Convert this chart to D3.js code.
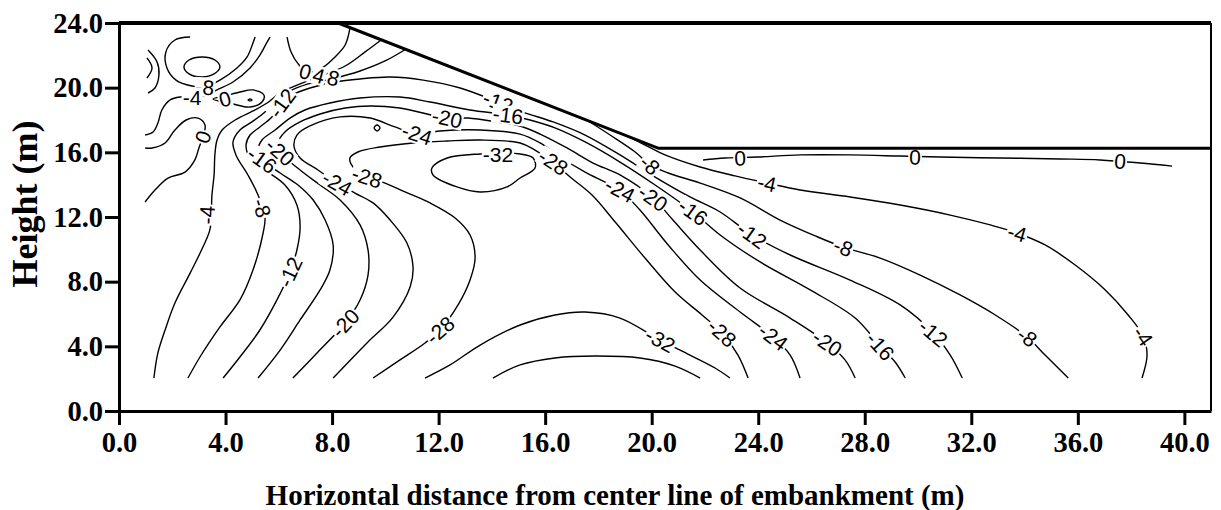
<!DOCTYPE html>
<html>
<head>
<meta charset="utf-8">
<script src="https://cdn.jsdelivr.net/npm/d3@7"></script>
<style>
  body { margin: 0; background: #fff; }
  svg { display: block; }
  .axis .tick text { font-family: "Liberation Serif", "Times New Roman", serif; font-weight: bold; font-size: 28.5px; fill: #000; }
  .axis path, .axis line { stroke: #000; stroke-width: 3; }
  .contour { fill: none; stroke: #000; stroke-width: 1.4; }
  .clabel { font-family: "Liberation Sans", Arial, sans-serif; font-size: 21px; fill: #000; }
  .axis-title { font-family: "Liberation Serif", "Times New Roman", serif; font-weight: bold; fill: #000; }
</style>
</head>
<body>
<div class="chart"></div>
<script>
// tick values
var xTicks = [0, 4, 8, 12, 16, 20, 24, 28, 32, 36, 40];
var yTicks = [0, 4, 8, 12, 16, 20, 24];

// embankment outline (x, y in m)
var embankment = [[8.23, 24], [20.26, 16.25], [41, 16.25]];

// contour lines, [x, y] in m
var level0Right = [[21.93,15.53],[22.76,15.65],[23.96,15.71],[25.57,15.84],[27.45,15.84],[29.33,15.77],[30.83,15.71],[33.08,15.65],[35.34,15.59],[36.84,15.53],[38.34,15.34],[39.54,15.15]];
var level4Right = [[19.0,17.07],[19.75,16.45],[20.5,15.84],[21.82,15.09],[23.13,14.54],[24.33,14.1],[25.57,13.67],[27.45,13.24],[29.33,12.74],[31.21,12.12],[32.71,11.51],[33.72,11.01],[34.77,10.27],[35.9,9.03],[37.03,7.49],[37.89,5.94],[38.45,4.64],[38.6,3.46],[38.41,2.04]];
var level8Right = [[17.5,18.06],[18.44,17.07],[19.38,16.02],[19.94,15.22],[20.62,14.72],[21.82,14.1],[23.32,13.18],[24.82,11.81],[26.14,10.83],[27.19,10.14],[28.58,9.46],[30.08,8.41],[31.58,7.18],[32.9,5.94],[34.1,4.58],[34.77,3.46],[35.64,2.04]];
var level4Left = [[1.31,2.04],[1.46,3.59],[1.73,5.01],[2.1,6.68],[2.67,8.53],[3.15,10.14],[3.42,11.26],[3.49,13.36],[3.57,14.6],[3.6,15.84],[3.68,16.76],[3.87,17.38],[4.36,18.0],[5.11,18.62],[5.56,19.05],[6.05,19.67],[6.8,20.23],[7.47,20.66],[8.49,21.34],[9.24,22.21],[9.84,22.95]];
var level8Left = [[2.59,2.04],[3.04,3.34],[3.79,5.2],[4.54,6.87],[5.03,8.72],[5.41,11.01],[5.48,12.0],[5.22,13.36],[4.84,14.6],[4.39,15.84],[4.28,16.64],[4.54,17.38],[4.99,17.88],[5.48,18.49],[5.78,19.05],[6.35,19.73],[7.1,20.23],[8.0,20.54],[9.05,21.03],[9.99,21.65],[10.78,22.39]];
var level0Top = [[6.31,23.13],[6.46,22.21],[6.76,21.4],[7.06,20.97],[7.62,21.22],[8.11,21.9],[8.49,22.64],[8.67,23.69]];
var level12 = [[3.91,2.04],[4.54,3.34],[5.29,5.01],[5.93,6.87],[6.42,8.6],[6.68,9.96],[6.8,11.38],[6.68,12.74],[6.23,13.98],[5.48,14.91],[4.92,15.65],[4.77,16.45],[4.92,17.07],[5.29,17.57],[5.74,18.19],[6.12,19.05],[6.5,19.55],[7.17,19.98],[8.11,20.35],[9.05,20.54],[10.18,20.66],[11.42,20.47],[12.81,19.98],[14.23,19.11],[15.17,18.49],[16.3,17.88],[17.5,17.07],[18.81,15.84],[20.13,14.47],[21.44,13.24],[22.57,12.31],[23.77,10.89],[25.2,9.65],[27.45,8.1],[29.33,6.56],[30.57,4.83],[31.21,3.46],[31.66,2.04]];
var level16 = [[5.22,2.04],[6.05,3.77],[6.8,5.63],[7.55,7.49],[7.92,8.72],[8.04,10.27],[7.74,11.81],[7.29,13.05],[6.72,13.98],[6.05,14.72],[5.37,15.53],[5.22,16.14],[5.37,16.76],[5.86,17.38],[6.42,18.12],[6.98,18.62],[7.92,19.05],[9.05,19.36],[10.55,19.42],[11.68,19.11],[13.18,18.62],[14.61,18.31],[15.43,18.0],[16.37,17.51],[17.5,16.64],[18.81,15.4],[20.13,13.98],[21.55,12.31],[22.57,10.89],[24.07,9.22],[25.95,7.49],[27.64,5.75],[28.58,4.02],[29.14,3.03],[29.52,2.04]];
var level20 = [[6.53,2.04],[7.47,3.65],[8.49,5.44],[9.05,6.87],[9.35,8.41],[9.35,9.96],[9.05,11.51],[8.3,13.05],[7.55,13.98],[6.8,14.91],[6.05,16.02],[5.98,16.64],[6.23,17.26],[6.8,17.88],[7.55,18.37],[8.49,18.74],[9.43,18.87],[10.55,18.74],[12.32,18.12],[13.11,18.12],[14.19,17.88],[15.06,17.63],[15.81,17.13],[16.82,16.27],[17.8,15.34],[18.81,14.6],[20.05,13.18],[20.8,11.81],[21.82,9.96],[23.32,7.61],[25.2,5.75],[26.59,4.21],[27.26,3.16],[27.64,2.04]];
var level24 = [[8.04,2.04],[9.31,4.21],[10.29,5.81],[10.93,7.67],[11.04,8.91],[10.81,10.39],[10.18,11.81],[9.54,12.87],[8.86,13.48],[8.19,14.1],[7.47,14.91],[6.8,15.65],[6.57,16.39],[6.68,17.07],[7.17,17.63],[8.3,18.19],[9.43,18.12],[10.36,17.57],[11.19,17.13],[12.05,17.32],[13.56,17.38],[15.06,17.13],[15.81,16.58],[16.56,15.71],[17.5,14.78],[18.25,14.16],[18.81,13.67],[19.56,12.43],[20.62,10.27],[21.82,8.1],[23.32,6.12],[24.56,4.58],[25.2,3.46],[25.57,2.04]];
var level28 = [[9.54,2.04],[10.55,3.16],[11.49,4.21],[12.05,5.01],[12.73,6.56],[13.18,8.1],[13.37,9.46],[13.18,10.89],[12.62,11.94],[11.68,12.87],[10.74,13.55],[9.99,14.1],[9.31,14.47],[8.79,15.09],[8.67,15.65],[8.97,16.02],[9.8,16.33],[11.04,16.58],[12.32,16.7],[13.56,16.76],[15.06,16.58],[15.62,16.14],[16.3,15.4],[16.94,14.47],[17.76,13.36],[18.63,11.69],[19.75,9.46],[20.88,7.36],[21.89,5.94],[22.64,4.83],[23.24,3.46],[23.62,2.04]];
var level32Bottom = [[11.49,2.04],[12.43,2.85],[13.56,4.08],[15.06,5.32],[16.37,5.94],[17.5,6.12],[18.81,5.75],[20.32,4.39],[21.44,3.46],[22.38,2.66],[22.94,2.04]];
var level36Bottom = [[14.04,2.04],[15.06,2.85],[16.37,3.28],[17.87,3.4],[19.56,3.28],[20.88,2.78],[21.82,2.04]];
var level8Ring = [[2.67,23.13],[2.1,22.95],[1.76,22.21],[1.8,21.22],[2.14,20.47],[2.74,20.1],[3.23,20.04],[3.79,20.47],[4.43,21.22],[4.81,21.9],[5.03,22.76],[5.11,23.13]];
var level4Upper = [[0.98,17.07],[1.28,17.26],[1.46,17.81],[1.61,18.62],[1.92,19.24],[2.29,19.42],[2.74,19.42],[3.3,19.55],[3.68,19.86],[4.28,20.35],[4.92,21.22],[5.29,22.02],[5.56,22.82],[5.67,23.13]];
var level0Left = [[0.98,12.93],[1.35,13.67],[1.84,14.41],[2.48,14.78],[2.85,15.53],[3.0,16.27],[3.15,16.95],[3.23,17.69],[2.97,18.12],[2.52,18.0],[2.1,17.38],[1.73,16.58],[1.24,16.27],[0.98,16.27]];
var arcInner = [[1.05,21.84],[1.24,21.22],[1.05,20.6]];
var arcOuter = [[1.09,22.33],[1.43,21.59],[1.5,20.78],[1.35,19.98],[1.09,19.67]];

// closed contours
var loop32 = [[11.75,15.03],[12.32,15.65],[13.56,15.9],[15.06,15.9],[15.55,15.65],[15.62,15.03],[15.06,14.41],[14.57,13.86],[13.56,13.55],[12.69,13.86],[11.79,14.6]];
var loopUpperLeft = [[2.44,21.28],[2.63,21.71],[3.12,21.9],[3.6,21.71],[3.79,21.28],[3.57,20.85],[3.12,20.66],[2.63,20.85]];
var loop0 = [[3.53,19.3],[4.28,18.99],[4.92,18.8],[5.37,19.11],[5.44,19.55],[5.03,19.86],[4.54,19.73],[3.98,19.48]];
var loopDot = [[4.85,19.24],[4.92,19.3],[4.99,19.24],[4.92,19.18]];
var loopSmall = [[9.58,17.51],[9.69,17.69],[9.8,17.51],[9.69,17.32]];

var openLines = [level0Right, level4Right, level8Right, level4Left, level8Left, level0Top,
  level12, level16, level20, level24, level28, level32Bottom, level36Bottom,
  level8Ring, level4Upper, level0Left, arcInner, arcOuter];
var closedLines = [loop32, loopUpperLeft, loop0, loopDot, loopSmall];

// contour labels: text, x, y (m), optional fixed angle
var contourLabels = [
  ["-8", 3.23, 20.04], ["-4", 2.74, 19.42], ["0", 3.98, 19.3], ["0", 3.15, 16.95],
  ["-12", 6.12, 19.05], ["0", 7.0, 21.0, 15], ["4", 7.5, 20.75, 15], ["8", 8.05, 20.6, 15],
  ["-16", 5.37, 15.53], ["-20", 6.05, 16.02], ["-24", 8.19, 14.1], ["-28", 9.31, 14.47],
  ["-4", 3.3, 12.12], ["-8", 5.37, 12.56], ["-12", 6.42, 8.6], ["-20", 8.49, 5.44], ["-28", 12.05, 5.01],
  ["-12", 14.23, 19.11], ["-16", 14.61, 18.31], ["-20", 12.32, 18.12], ["-24", 11.19, 17.13],
  ["-32", 14.23, 15.9], ["-28", 16.3, 15.4], ["-24", 18.81, 13.67], ["-20", 20.05, 13.18],
  ["-16", 21.55, 12.31], ["-8", 19.94, 15.22], ["-12", 23.77, 10.89], ["-4", 24.33, 14.1],
  ["0", 23.32, 15.65], ["-8", 27.19, 10.14], ["-4", 33.72, 11.01], ["0", 29.89, 15.71], ["0", 37.59, 15.46],
  ["-32", 20.32, 4.39], ["-28", 22.64, 4.83], ["-24", 24.56, 4.58], ["-20", 26.59, 4.21],
  ["-16", 28.58, 4.02], ["-12", 30.57, 4.83], ["-8", 34.1, 4.58], ["-4", 38.45, 4.64]
];

var svgWidth = 1221, svgHeight = 510;
var margin = { top: 23, right: 10, bottom: 99, left: 119 };
var chartWidth = svgWidth - margin.left - margin.right;
var chartHeight = svgHeight - margin.top - margin.bottom;

var svg = d3.select(".chart").append("svg")
  .attr("width", svgWidth)
  .attr("height", svgHeight);

var chartGroup = svg.append("g")
  .attr("transform", `translate(${margin.left}, ${margin.top})`);

var xScale = d3.scaleLinear().domain([0, 41]).range([0, chartWidth]);
var yScale = d3.scaleLinear().domain([0, 24]).range([chartHeight, 0]);

var lineOpen = d3.line()
  .x(d => xScale(d[0]))
  .y(d => yScale(d[1]))
  .curve(d3.curveCatmullRom.alpha(0.5));
var lineClosed = d3.line()
  .x(d => xScale(d[0]))
  .y(d => yScale(d[1]))
  .curve(d3.curveCatmullRomClosed.alpha(0.5));

var contourGroup = chartGroup.append("g");
contourGroup.selectAll("path.open")
  .data(openLines)
  .enter()
  .append("path")
  .attr("class", "contour open")
  .attr("d", lineOpen);
contourGroup.selectAll("path.closed")
  .data(closedLines)
  .enter()
  .append("path")
  .attr("class", "contour closed")
  .attr("d", lineClosed);

// angle of the nearest contour segment for each label
var allLines = openLines.concat(closedLines);
function labelAngle(lx, ly) {
  var px = xScale(lx), py = yScale(ly);
  var best = Infinity, ang = 0;
  allLines.forEach(function (pts) {
    for (var i = 0; i < pts.length - 1; i++) {
      var ax = xScale(pts[i][0]), ay = yScale(pts[i][1]);
      var bx = xScale(pts[i + 1][0]), by = yScale(pts[i + 1][1]);
      var dx = bx - ax, dy = by - ay;
      var t = ((px - ax) * dx + (py - ay) * dy) / (dx * dx + dy * dy);
      t = Math.max(0, Math.min(1, t));
      var qx = ax + t * dx - px, qy = ay + t * dy - py;
      var dist = qx * qx + qy * qy;
      if (dist < best) { best = dist; ang = Math.atan2(dy, dx) * 180 / Math.PI; }
    }
  });
  if (ang > 90) ang -= 180;
  if (ang <= -90) ang += 180;
  return ang;
}

var labelGroup = chartGroup.append("g");
contourLabels.forEach(function (d) {
  var angle = d.length > 3 ? d[3] : labelAngle(d[1], d[2]);
  var g = labelGroup.append("g")
    .attr("transform", `translate(${xScale(d[1])}, ${yScale(d[2])}) rotate(${angle})`);
  var bg = g.append("rect").attr("fill", "#fff");
  var t = g.append("text")
    .attr("class", "clabel")
    .attr("text-anchor", "middle")
    .attr("dy", "0.36em")
    .text(d[0]);
  var bb = t.node().getBBox();
  bg.attr("x", bb.x - 1).attr("y", bb.y + 2)
    .attr("width", bb.width + 2).attr("height", bb.height - 4);
});

// embankment and frame
chartGroup.append("line")
  .attr("x1", xScale(0)).attr("x2", xScale(41))
  .attr("y1", yScale(24)).attr("y2", yScale(24))
  .attr("stroke", "#000").attr("stroke-width", 4);
chartGroup.append("line")
  .attr("x1", xScale(41)).attr("x2", xScale(41))
  .attr("y1", yScale(24)).attr("y2", yScale(0))
  .attr("stroke", "#000").attr("stroke-width", 2);
chartGroup.append("path")
  .datum(embankment)
  .attr("fill", "none")
  .attr("stroke", "#000")
  .attr("stroke-width", 3)
  .attr("d", d3.line().x(d => xScale(d[0])).y(d => yScale(d[1])));

// axes
var xAxis = d3.axisBottom(xScale).tickValues(xTicks).tickFormat(d3.format(".1f"))
  .tickSize(14).tickSizeOuter(0).tickPadding(7);
var yAxis = d3.axisLeft(yScale).tickValues(yTicks).tickFormat(d3.format(".1f"))
  .tickSize(14).tickSizeOuter(0).tickPadding(2);

chartGroup.append("g")
  .attr("class", "axis")
  .attr("transform", `translate(0, ${chartHeight})`)
  .call(xAxis);
chartGroup.append("g")
  .attr("class", "axis")
  .call(yAxis);

// axis titles
svg.append("text")
  .attr("class", "axis-title")
  .attr("text-anchor", "middle")
  .attr("x", 615)
  .attr("y", 505)
  .style("font-size", "29px")
  .text("Horizontal distance from center line of embankment (m)");
svg.append("text")
  .attr("class", "axis-title")
  .attr("text-anchor", "middle")
  .attr("transform", "translate(37, 204) rotate(-90)")
  .style("font-size", "36px")
  .text("Height (m)");
</script>
</body>
</html>
